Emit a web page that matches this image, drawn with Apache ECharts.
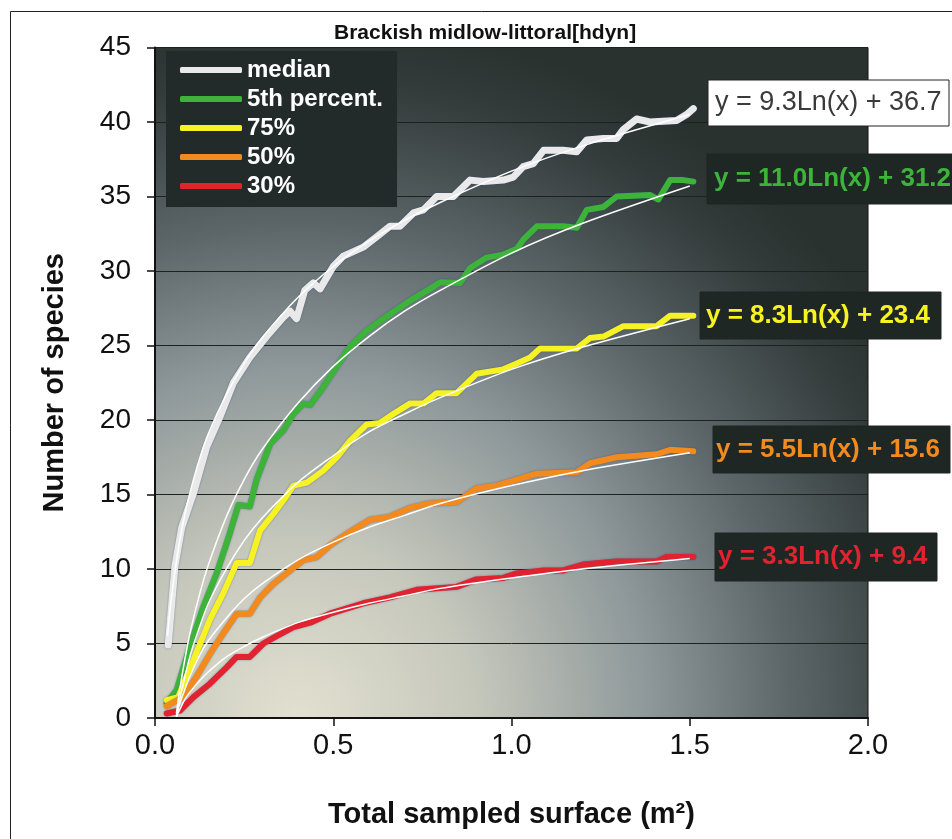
<!DOCTYPE html>
<html>
<head>
<meta charset="utf-8">
<script src="https://cdn.jsdelivr.net/npm/echarts@6/dist/echarts.min.js"></script>
<style>
  html, body { margin: 0; padding: 0; background: #fff; }
  #container { width: 952px; height: 839px; }
</style>
</head>
<body>
<div id="container"></div>
<script>
// curves, [surface m2, species]
var medianData = [[0.037,4.9],[0.056,10.2],[0.075,12.8],[0.108,15.1],[0.145,18.2],[0.182,20.2],[0.22,22.5],[0.266,24.2],[0.313,25.6],[0.36,26.9],[0.379,27.3],[0.397,26.8],[0.42,28.7],[0.444,29.2],[0.463,28.8],[0.5,30.3],[0.528,31.0],[0.547,31.2],[0.584,31.6],[0.622,32.3],[0.659,33.0],[0.687,33.0],[0.725,33.9],[0.753,34.1],[0.79,35.0],[0.837,35.0],[0.884,36.1],[0.921,36.0],[0.977,36.1],[1.005,36.3],[1.033,37.0],[1.061,37.2],[1.09,38.1],[1.145,38.1],[1.183,38.0],[1.211,38.8],[1.258,38.9],[1.295,38.9],[1.314,39.5],[1.351,40.2],[1.388,40.0],[1.463,40.1],[1.491,40.5],[1.51,40.9]];
var p5Data = [[0.033,1.0],[0.061,1.9],[0.098,4.8],[0.136,7.5],[0.173,9.7],[0.21,12.4],[0.234,14.3],[0.266,14.2],[0.285,16.0],[0.323,18.4],[0.36,19.3],[0.388,20.4],[0.416,21.1],[0.435,21.0],[0.472,22.2],[0.51,23.6],[0.547,24.9],[0.594,26.0],[0.659,27.1],[0.715,28.0],[0.771,28.8],[0.8,29.25],[0.856,29.2],[0.884,30.2],[0.93,30.9],[0.977,31.1],[1.015,31.5],[1.033,32.1],[1.071,33.0],[1.145,33.0],[1.183,32.9],[1.211,34.1],[1.258,34.3],[1.295,35.0],[1.388,35.1],[1.412,34.8],[1.445,36.1],[1.482,36.1],[1.51,36.0]];
var p75Data = [[0.033,1.2],[0.065,1.4],[0.108,3.9],[0.154,6.6],[0.192,8.4],[0.229,10.4],[0.266,10.4],[0.295,12.6],[0.332,13.7],[0.369,14.9],[0.388,15.6],[0.426,15.8],[0.472,16.6],[0.51,17.5],[0.547,18.6],[0.594,19.7],[0.631,19.8],[0.668,20.4],[0.715,21.1],[0.753,21.1],[0.79,21.8],[0.846,21.8],[0.902,23.1],[0.977,23.4],[1.015,23.8],[1.052,24.2],[1.08,24.8],[1.183,24.8],[1.22,25.5],[1.258,25.6],[1.314,26.3],[1.407,26.3],[1.445,27.0],[1.51,27.0]];
var p50Data = [[0.033,0.8],[0.079,1.4],[0.117,2.8],[0.154,4.3],[0.192,5.7],[0.229,7.0],[0.266,7.0],[0.295,8.1],[0.332,9.0],[0.379,9.9],[0.416,10.6],[0.454,10.8],[0.491,11.6],[0.547,12.5],[0.603,13.3],[0.659,13.5],[0.715,14.1],[0.771,14.4],[0.846,14.5],[0.902,15.4],[0.958,15.6],[1.015,16.0],[1.071,16.4],[1.183,16.5],[1.22,17.1],[1.295,17.5],[1.407,17.7],[1.445,18.0],[1.51,17.9]];
var p30Data = [[0.033,0.3],[0.07,0.5],[0.108,1.4],[0.154,2.3],[0.201,3.4],[0.229,4.1],[0.266,4.1],[0.304,5.0],[0.341,5.5],[0.388,6.1],[0.435,6.4],[0.491,7.0],[0.584,7.7],[0.659,8.1],[0.734,8.6],[0.846,8.8],[0.902,9.3],[0.977,9.4],[1.015,9.7],[1.09,9.9],[1.145,9.9],[1.201,10.3],[1.295,10.5],[1.407,10.5],[1.435,10.8],[1.51,10.8]];

// thin white log trendlines
var medianFit = [[0.035,5.5],[0.04,6.8],[0.05,8.8],[0.06,10.5],[0.07,12.0],[0.085,13.8],[0.1,15.3],[0.125,17.4],[0.15,19.1],[0.2,21.7],[0.25,23.8],[0.3,25.5],[0.4,28.2],[0.5,30.3],[0.6,32.0],[0.7,33.4],[0.8,34.6],[1.0,36.7],[1.2,38.4],[1.5,40.5]];
var p5Fit = [[0.06,0.3],[0.07,2.0],[0.085,4.1],[0.1,5.9],[0.125,8.3],[0.15,10.3],[0.2,13.5],[0.25,16.0],[0.3,18.0],[0.4,21.1],[0.5,23.6],[0.6,25.6],[0.7,27.3],[0.8,28.7],[1.0,31.2],[1.2,33.2],[1.5,35.7]];
var p75Fit = [[0.06,0.1],[0.07,1.3],[0.085,2.9],[0.1,4.3],[0.125,6.1],[0.15,7.7],[0.2,10.0],[0.25,11.9],[0.3,13.4],[0.4,15.8],[0.5,17.6],[0.6,19.2],[0.7,20.4],[0.8,21.5],[1.0,23.4],[1.2,24.9],[1.5,26.8]];
var p50Fit = [[0.06,0.1],[0.07,1.0],[0.085,2.0],[0.1,2.9],[0.125,4.2],[0.15,5.2],[0.2,6.7],[0.25,8.0],[0.3,9.0],[0.4,10.6],[0.5,11.8],[0.6,12.8],[0.7,13.6],[0.8,14.4],[1.0,15.6],[1.2,16.6],[1.5,17.8]];
var p30Fit = [[0.06,0.1],[0.07,0.6],[0.085,1.3],[0.1,1.8],[0.125,2.5],[0.15,3.1],[0.2,4.1],[0.25,4.8],[0.3,5.4],[0.4,6.4],[0.5,7.1],[0.6,7.7],[0.7,8.2],[0.8,8.7],[1.0,9.4],[1.2,10.0],[1.5,10.7]];

var seriesNames = ['median', '5th percent.', '75%', '50%', '30%'];
var seriesColors = ['#e9e9e9', '#3db33a', '#f7f224', '#f28a1e', '#e0232f'];
var fitLabels = ['y = 9.3Ln(x) + 36.7', 'y = 11.0Ln(x) + 31.2', 'y = 8.3Ln(x) + 23.4', 'y = 5.5Ln(x) + 15.6', 'y = 3.3Ln(x) + 9.4'];

var dataSets = [medianData, p5Data, p75Data, p50Data, p30Data];
var fitSets = [medianFit, p5Fit, p75Fit, p50Fit, p30Fit];

var FONT = 'Liberation Sans, Arial, sans-serif';
var myChart = echarts.init(document.getElementById('container'));

var series = [];
var i;
for (i = 0; i < dataSets.length; i++) {
  series.push({
    name: seriesNames[i],
    type: 'line',
    data: dataSets[i],
    symbol: 'none',
    z: 3,
    itemStyle: { color: seriesColors[i] },
    lineStyle: { color: seriesColors[i], width: i == 0 ? 7 : 6, join: 'round', cap: 'round',
      shadowColor: 'rgba(40,70,140,0.55)', shadowBlur: 2 }
  });
}
for (i = 0; i < fitSets.length; i++) {
  series.push({
    name: 'fit' + i,
    type: 'line',
    data: fitSets[i],
    symbol: 'none',
    smooth: 0.3,
    silent: true,
    z: 4,
    lineStyle: { color: '#ffffff', width: 1.5 }
  });
}

// equation boxes on the right
var boxes = [
  { x: 708, y: 80, w: 241, h: 46, bg: '#ffffff', border: '#222', color: '#3a3a3a', bold: false, tx: 715 },
  { x: 707, y: 154, w: 260, h: 50, bg: '#1f2725', border: '#1f2725', color: seriesColors[1], bold: true, tx: 714 },
  { x: 700, y: 292, w: 241, h: 47, bg: '#1f2725', border: '#1f2725', color: seriesColors[2], bold: true, tx: 706 },
  { x: 713, y: 426, w: 237, h: 47, bg: '#1f2725', border: '#1f2725', color: seriesColors[3], bold: true, tx: 716 },
  { x: 715, y: 533, w: 222, h: 48, bg: '#1f2725', border: '#1f2725', color: seriesColors[4], bold: true, tx: 718 }
];
var graphic = [{
  type: 'rect', z: -10, silent: true,
  shape: { x: 10.5, y: 11.5, width: 1000, height: 900 },
  style: { fill: null, stroke: '#222', lineWidth: 1 }
}];
for (i = 0; i < boxes.length; i++) {
  var b = boxes[i];
  graphic.push({
    type: 'rect', z: 50,
    shape: { x: b.x, y: b.y, width: b.w, height: b.h },
    style: { fill: b.bg, stroke: b.border, lineWidth: 1 }
  });
  graphic.push({
    type: 'text', z: 51,
    x: b.tx, y: b.y + b.h / 2,
    style: {
      text: fitLabels[i],
      fill: b.color,
      font: (b.bold ? 'bold 26px ' : '27px ') + FONT,
      verticalAlign: 'middle'
    }
  });
}

var option = {
  animation: false,
  backgroundColor: '#ffffff',
  title: {
    text: 'Brackish midlow-littoral[hdyn]',
    left: 329,
    top: 18,
    textStyle: { fontFamily: FONT, fontWeight: 'bold', fontSize: 21, color: '#111' }
  },
  legend: {
    data: seriesNames,
    orient: 'vertical',
    left: 166,
    top: 51,
    padding: [7, 14, 9, 14],
    itemGap: 5,
    itemWidth: 62,
    itemHeight: 6,
    icon: 'roundRect',
    backgroundColor: '#232a2a',
    textStyle: { fontFamily: FONT, fontWeight: 'bold', fontSize: 24, color: '#ffffff' }
  },
  grid: {
    left: 155,
    top: 47.5,
    right: 84,
    bottom: 121,
    show: true,
    borderColor: '#111',
    borderWidth: 1,
    backgroundColor: {
      type: 'radial', x: 0.2, y: 1.0, r: 1.05,
      colorStops: [
        { offset: 0, color: '#e2e0d0' },
        { offset: 0.25, color: '#c6c8bc' },
        { offset: 0.5, color: '#8e989a' },
        { offset: 0.7, color: '#5c6668' },
        { offset: 0.9, color: '#343c3c' },
        { offset: 1, color: '#2a322f' }
      ]
    }
  },
  xAxis: {
    type: 'value',
    min: 0,
    max: 2,
    interval: 0.5,
    name: 'Total sampled surface (m²)',
    nameLocation: 'middle',
    nameGap: 82,
    nameTextStyle: { fontFamily: FONT, fontWeight: 'bold', fontSize: 29, color: '#111' },
    axisLine: { lineStyle: { color: '#111', width: 2 } },
    axisTick: { length: 8, lineStyle: { color: '#111', width: 1.5 } },
    axisLabel: {
      margin: 13, fontFamily: FONT, fontSize: 29, color: '#111',
      formatter: function (v) { return v.toFixed(1); }
    },
    splitLine: { show: false }
  },
  yAxis: {
    type: 'value',
    min: 0,
    max: 45,
    interval: 5,
    name: 'Number of species',
    nameLocation: 'middle',
    nameGap: 86,
    nameTextStyle: { fontFamily: FONT, fontWeight: 'bold', fontSize: 29, color: '#111' },
    axisLine: { show: true, lineStyle: { color: '#111', width: 2 } },
    axisTick: { show: true, length: 8, lineStyle: { color: '#111', width: 1.5 } },
    axisLabel: { margin: 24, fontFamily: FONT, fontSize: 28, color: '#111' },
    splitLine: { lineStyle: { color: '#1c2220', width: 1 } }
  },
  graphic: graphic,
  series: series
};

myChart.setOption(option);
</script>
</body>
</html>
